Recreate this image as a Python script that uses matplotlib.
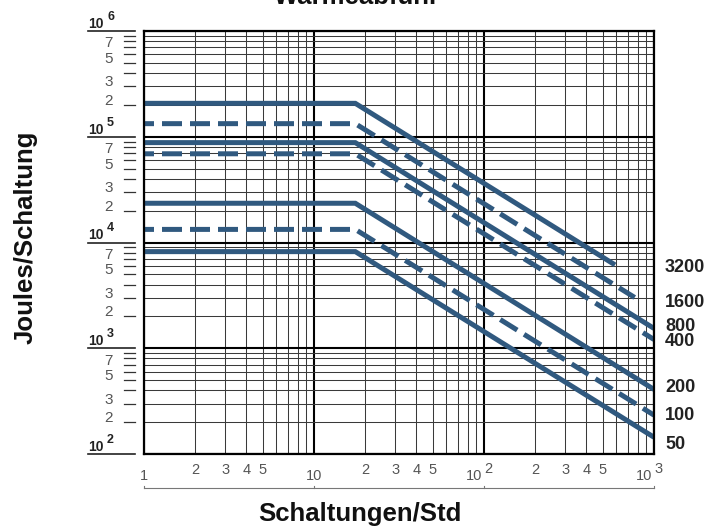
import matplotlib
matplotlib.use('Agg')
import matplotlib.pyplot as plt
import matplotlib.transforms as mtrans
from matplotlib.ticker import LogLocator

plt.rcParams['font.family'] = ['Liberation Sans', 'DejaVu Sans']

# ---------------- data ----------------
series_labels = ["3200", "1600", "800", "400", "200", "100", "50"]
series_dashed = [False, True, False, True, False, True, False]
x_points = [
    [1, 17.5, 590],
    [1, 17.5, 770],
    [1, 17.5, 1000],
    [1, 17.5, 1000],
    [1, 17.5, 1000],
    [1, 17.5, 1000],
    [1, 17.5, 1000],
]
y_points = [
    [2.07e5, 2.07e5, 6140],
    [1.33e5, 1.33e5, 3020],
    [8.8e4, 8.8e4, 1540],
    [6.9e4, 6.9e4, 1210],
    [2.35e4, 2.35e4, 408],
    [1.33e4, 1.33e4, 233],
    [8.2e3, 8.2e3, 144],
]
label_y = [5740, 2700, 1620, 1150, 421, 229, 124]

x_decades = [1, 10, 100, 1000]
x_minor_labels = [2, 3, 4, 5]
y_decades = [100, 1000, 10000, 100000, 1000000]
y_decade_exp = ["2", "3", "4", "5", "6"]
y_minor_labels = [2, 3, 5, 7]

BLUE = '#30597f'

# ---------------- figure ----------------
fig = plt.figure(figsize=(7.22, 5.27), dpi=100)
ax = fig.add_axes([144 / 722, 73 / 527, 510 / 722, 423 / 527])
ax.set_xscale('log')
ax.set_yscale('log')
ax.set_xlim(1, 1000)
ax.set_ylim(100, 1e6)

for axis in (ax.xaxis, ax.yaxis):
    axis.set_major_locator(LogLocator(base=10, numticks=10))
    axis.set_minor_locator(LogLocator(base=10, subs=range(2, 10), numticks=10))
ax.set_axisbelow(True)
ax.grid(which='major', color='black', lw=1.5)
ax.grid(which='minor', color='#3a3a3a', lw=0.75)
ax.tick_params(which='both', length=0, labelbottom=False, labelleft=False)
for sp in ax.spines.values():
    sp.set_linewidth(1.6)
    sp.set_color('black')
    sp.set_zorder(5)

for xs, ys, dashed in zip(x_points, y_points, series_dashed):
    if dashed:
        ax.plot(xs, ys, color=BLUE, lw=3.6, ls=(2.0, (4.0, 1.6)),
                dash_capstyle='butt', dash_joinstyle='miter', zorder=3)
    else:
        ax.plot(xs, ys, color=BLUE, lw=3.6, solid_capstyle='butt',
                solid_joinstyle='miter', zorder=3)

# right-hand labels
ty = mtrans.blended_transform_factory(ax.transAxes, ax.transData)
for lab, yv in zip(series_labels, label_y):
    ax.text(1.0216, yv, lab, transform=ty, ha='left', va='center',
            fontsize=13, fontweight='bold', color='#222222')

# y axis decorations
def off(dx_pt, dy_pt):
    return mtrans.ScaledTranslation(dx_pt / 72, dy_pt / 72, fig.dpi_scale_trans)

for d, e in zip(y_decades, y_decade_exp):
    ax.plot([-0.1098, -0.0176], [d, d], transform=ty, color='#222222',
            lw=1.2, clip_on=False)
    ax.text(-0.1098, d, "10", transform=ty + off(0, 2.2), ha='left',
            va='baseline', fontsize=10, fontweight='bold', color='#222222')
    ax.text(-0.0725, d, e, transform=ty + off(0, 8.0), ha='left',
            va='baseline', fontsize=9, fontweight='bold', color='#222222')
for d in y_decades[:-1]:
    for m in range(2, 10):
        ax.plot([-0.0392, -0.0176], [m * d, m * d], transform=ty,
                color='#333333', lw=0.9, clip_on=False)
    for m in y_minor_labels:
        ax.text(-0.0608, m * d, str(m), transform=ty, ha='right',
                va='baseline', fontsize=11, color='#555555')

# x axis decorations
tx = mtrans.blended_transform_factory(ax.transData, ax.transAxes)
for d in x_decades[:-1]:
    for m in x_minor_labels:
        ax.text(m * d, -0.039, str(m), transform=tx, ha='center',
                va='center', fontsize=10.5, color='#555555')
ax.text(1, -0.052, "1", transform=tx, ha='center', va='center',
        fontsize=10.5, color='#555555')
ax.text(10, -0.052, "10", transform=tx, ha='center', va='center',
        fontsize=10.5, color='#555555')
for d, e in zip(x_decades[2:], ["2", "3"]):
    ax.text(d, -0.052, "10", transform=tx + off(-1.2, 0), ha='right',
            va='center', fontsize=10.5, color='#555555')
    ax.text(d, -0.052, e, transform=tx + off(0.3, 5.0), ha='left',
            va='center', fontsize=10.5, color='#555555')

ax.plot([x_decades[0], x_decades[-1]], [-0.0797, -0.0797], transform=tx,
        color='#777777', lw=0.8, clip_on=False)
for d in x_decades:
    ax.plot([d, d], [-0.0797, -0.0747], transform=tx, color='#777777',
            lw=0.8, clip_on=False)

# titles
fig.text(357 / 722, 1 - 4 / 527, "Wärmeabfuhr", ha='center', va='baseline',
         fontsize=18.5, fontweight='bold', color='#111111')
fig.text(26 / 722, 1 - 237 / 527, "Joules/Schaltung", rotation=90,
         ha='center', va='center', fontsize=18.5, fontweight='bold',
         color='#111111')
fig.text(360 / 722, 1 - 514 / 527, "Schaltungen/Std", ha='center',
         va='center', fontsize=18.5, fontweight='bold', color='#111111')

fig.savefig('out.png', dpi=100)
